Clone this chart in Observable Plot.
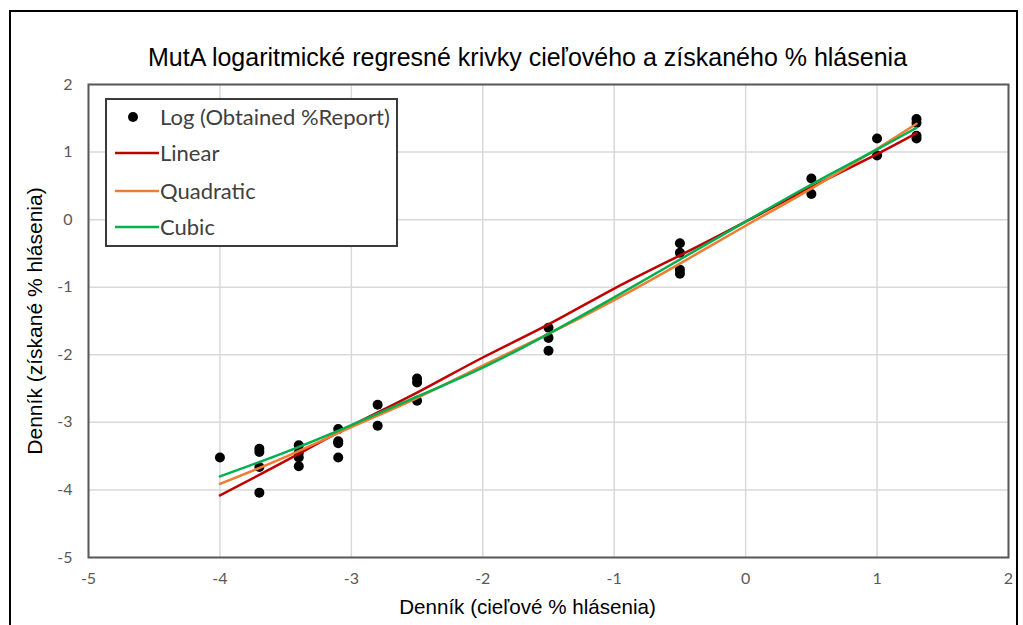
<!DOCTYPE html>
<html>
<head>
<meta charset="utf-8">
<script src="https://cdn.jsdelivr.net/npm/d3@7"></script>
<script src="https://cdn.jsdelivr.net/npm/@observablehq/plot@0.6"></script>
<style>
  html, body { margin: 0; padding: 0; background: #fff; }
  #wrap { position: relative; width: 1023px; height: 625px; overflow: hidden; }
  #outer { position: absolute; left: 9px; top: 10px; width: 1009px; height: 700px; border: 2px solid #000; box-sizing: border-box; pointer-events: none; }
  #legend { position: absolute; left: 105px; top: 98px; width: 293px; height: 149px; border: 2px solid #3a3a3a; box-sizing: border-box; background: #fff; font-family: Lato, "Open Sans", sans-serif; font-size: 22px; color: #404040; }
  .item { position: absolute; left: 8px; height: 26px; display: flex; align-items: center; white-space: nowrap; }
  .item svg { width: 44px; height: 26px; flex: none; }
  .item span { margin-left: 1px; line-height: 26px; }
</style>
</head>
<body>
<div id="wrap">
  <div id="chart"></div>
  <div id="outer"></div>
  <div id="legend"></div>
</div>
<script>
// Scatter data: log10 of target % vs log10 of obtained %
const targetLog   = [-4, -3.7, -3.7, -3.7, -3.7, -3.4, -3.4, -3.4, -3.4, -3.1, -3.1, -3.1, -3.1, -2.8, -2.8, -2.5, -2.5, -2.5, -1.5, -1.5, -1.5, -0.5, -0.5, -0.5, -0.5, 0.5, 0.5, 1.0, 1.0, 1.3, 1.3, 1.3, 1.3];
const obtainedLog = [-3.52, -3.39, -3.44, -3.66, -4.04, -3.34, -3.45, -3.52, -3.65, -3.10, -3.28, -3.31, -3.52, -2.74, -3.05, -2.35, -2.41, -2.68, -1.60, -1.75, -1.94, -0.35, -0.49, -0.74, -0.80, 0.61, 0.38, 1.20, 0.95, 1.49, 1.43, 1.24, 1.20];

// Regression curves
const fitX    = [-4, -3.5, -3, -2.5, -2, -1.5, -1, -0.5, 0, 0.5, 1, 1.3];
const linearY = [-4.08, -3.57, -3.05, -2.56, -2.04, -1.55, -1.02, -0.53, -0.03, 0.48, 0.97, 1.28];
const quadY   = [-3.91, -3.51, -3.07, -2.64, -2.16, -1.69, -1.19, -0.65, -0.09, 0.46, 1.05, 1.42];
const cubicY  = [-3.80, -3.44, -3.04, -2.62, -2.19, -1.69, -1.15, -0.59, -0.03, 0.52, 1.04, 1.36];

const xTicks = [-5, -4, -3, -2, -1, 0, 1, 2];
const yTicks = [-5, -4, -3, -2, -1, 0, 1, 2];

const seriesNames  = ["Linear", "Quadratic", "Cubic"];
const seriesColors = ["#c00000", "#ed7d31", "#00b050"];
const pointLabel = "Log (Obtained %Report)";

const title  = "MutA logaritmické regresné krivky cieľového a získaného % hlásenia";
const xTitle = "Denník (cieľové % hlásenia)";
const yTitle = "Denník (získané % hlásenia)";

const points = targetLog.map((x, i) => ({x, y: obtainedLog[i]}));
const fits = [linearY, quadY, cubicY].flatMap((ys, k) => fitX.map((x, i) => ({x, y: ys[i], s: seriesNames[k]})));

const tickFont = "Lato, 'Open Sans', sans-serif";
const labelFont = "'Liberation Sans', Arial, sans-serif";
const chart = Plot.plot({
  width: 1023,
  height: 625,
  marginLeft: 88,
  marginRight: 15,
  marginTop: 84,
  marginBottom: 68,
  style: {background: "transparent", fontFamily: tickFont, fontSize: "16px", color: "#595959"},
  x: {domain: [-5, 2]},
  y: {domain: [-5, 2]},
  marks: [
    Plot.gridX(xTicks, {stroke: "#d9d9d9", strokeOpacity: 1, strokeWidth: 1.5}),
    Plot.gridY(yTicks, {stroke: "#d9d9d9", strokeOpacity: 1, strokeWidth: 1.5}),
    Plot.frame({stroke: "#595959", strokeWidth: 2}),
    Plot.axisX({ticks: xTicks, tickSize: 0, tickPadding: 15, tickFormat: d => String(d), label: null, fill: "#595959"}),
    Plot.axisY({ticks: yTicks, tickSize: 0, tickPadding: 16, tickFormat: d => String(d), label: null, fill: "#595959"}),
    Plot.dot(points, {x: "x", y: "y", r: 5, fill: "#000", stroke: "none"}),
    ...seriesNames.map((name, k) => Plot.line(fits.filter(d => d.s === name), {x: "x", y: "y", stroke: seriesColors[k], strokeWidth: 2.5, curve: "natural"})),
    Plot.text([title], {frameAnchor: "top", lineAnchor: "middle", textAnchor: "middle", dx: -21, dy: -27, fontFamily: labelFont, fontSize: 25, fill: "#000"}),
    Plot.text([xTitle], {frameAnchor: "bottom", lineAnchor: "middle", textAnchor: "middle", dx: -21, dy: 50, fontFamily: labelFont, fontSize: 20.6, fill: "#000"}),
    Plot.text([yTitle], {frameAnchor: "left", lineAnchor: "middle", textAnchor: "middle", dx: -53, rotate: -90, fontFamily: labelFont, fontSize: 21, fill: "#000"})
  ]
});
document.getElementById("chart").appendChild(chart);

// Legend
const legend = document.getElementById("legend");
const rows = [{type: "dot", label: pointLabel, color: "#000"}].concat(seriesNames.map((n, k) => ({type: "line", label: n, color: seriesColors[k]})));
const rowTops = [4, 40, 78, 114];
rows.forEach((r, i) => {
  const div = document.createElement("div");
  div.className = "item";
  div.style.top = rowTops[i] + "px";
  const sw = r.type === "dot"
    ? `<svg><circle cx="18" cy="13" r="5" fill="${r.color}"/></svg>`
    : `<svg><line x1="0" y1="13" x2="44" y2="13" stroke="${r.color}" stroke-width="2.5"/></svg>`;
  div.innerHTML = sw + `<span>${r.label}</span>`;
  legend.appendChild(div);
});
</script>
</body>
</html>
